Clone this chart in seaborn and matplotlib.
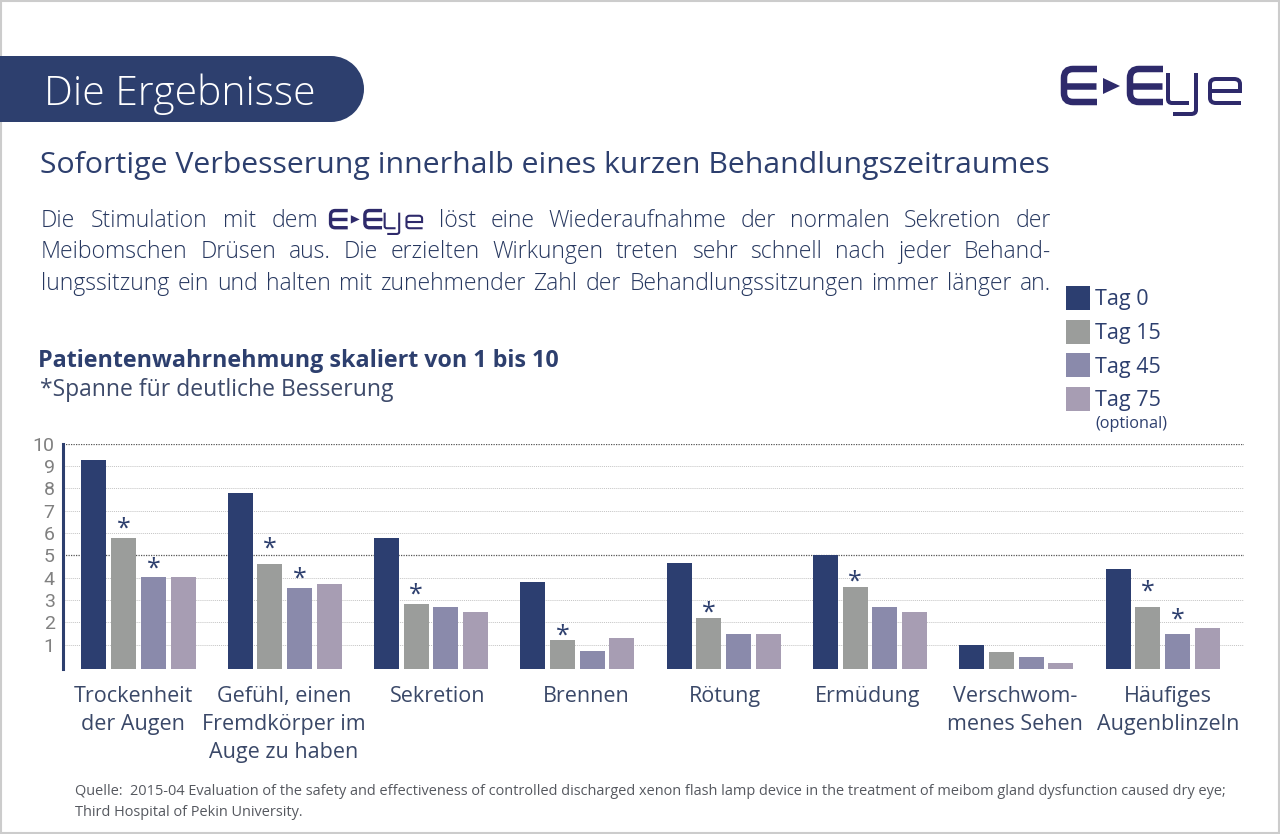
import matplotlib
matplotlib.use('Agg')
import matplotlib.pyplot as plt
from matplotlib.patches import Rectangle, Circle, PathPatch, Polygon
from matplotlib.path import Path
import pandas as pd
import seaborn as sns

categories = ['Trockenheit der Augen', 'Gefühl, einen Fremdkörper im Auge zu haben', 'Sekretion', 'Brennen',
              'Rötung', 'Ermüdung', 'Verschwommenes Sehen', 'Häufiges Augenblinzeln']
category_labels = ['Trockenheit\nder Augen', 'Gefühl, einen\nFremdkörper im\nAuge zu haben', 'Sekretion', 'Brennen',
                   'Rötung', 'Ermüdung', 'Verschwom-\nmenes Sehen', 'Häufiges\nAugenblinzeln']
label_centers = [133, 284, 438, 586, 725, 868, 1015, 1168]
tag_0 = [9.28, 7.80, 5.76, 3.82, 4.66, 5.01, 0.99, 4.39]
tag_15 = [5.76, 4.60, 2.84, 1.19, 2.21, 3.57, 0.69, 2.69]
tag_45 = [4.03, 3.54, 2.69, 0.73, 1.49, 2.69, 0.43, 1.49]
tag_75 = [4.03, 3.72, 2.48, 1.30, 1.49, 2.46, 0.18, 1.73]
tags = ['Tag 0', 'Tag 15', 'Tag 45', 'Tag 75']
colors = ['#2c3e70', '#9b9d9b', '#8a8aab', '#a79db3']
# (tag index, category index, Hoehe) der Sternchen
stars = [(1, 0, 6.34), (2, 0, 4.58), (1, 1, 5.48), (2, 1, 4.10), (1, 2, 3.42),
         (1, 3, 1.57), (1, 4, 2.61), (1, 5, 3.99), (1, 7, 3.54), (2, 7, 2.30)]

NAVY = '#2d3f6e'
BASE = -0.09

sns.set_theme(style='white')
plt.rcParams['font.family'] = ['Open Sans', 'DejaVu Sans']

df = pd.DataFrame({
    'kategorie': categories * 4,
    'tag': [t for t in tags for _ in categories],
    'wert': tag_0 + tag_15 + tag_45 + tag_75,
})

fig = plt.figure(figsize=(12.8, 8.34), dpi=100, facecolor='white')

# Hilfsachse in Pixelkoordinaten fuer alles ausserhalb des Diagramms
deco = fig.add_axes([0, 0, 1, 1], zorder=0)
deco.set_xlim(0, 1280)
deco.set_ylim(834, 0)
deco.axis('off')

ax = fig.add_axes([63 / 1280, 1 - 669 / 834, (1244 - 63) / 1280, (669 - 443.7) / 834], zorder=1)
ax.patch.set_alpha(0)

sns.barplot(data=df, x='kategorie', y='wert', hue='tag', order=categories, hue_order=tags,
            palette=colors, width=0.812, gap=0.158, saturation=1, errorbar=None, linewidth=0, ax=ax)

ax.set_xlim(-0.516, 7.556)
ax.set_ylim(BASE, 10)
ax.set_xlabel('')
ax.set_ylabel('')
ax.set_xticks([])
ax.set_yticks(range(1, 11))
ax.tick_params(axis='y', length=0, pad=6, labelsize=14, labelcolor='#808080', labelfontfamily='Roboto')
for s in ['top', 'right', 'bottom']:
    ax.spines[s].set_visible(False)
ax.spines['left'].set_color(NAVY)
ax.spines['left'].set_linewidth(2.2)
ax.set_axisbelow(True)
ax.yaxis.grid(True, linestyle=(0, (1, 1)), linewidth=0.7, color='#c4c4c4')
for val, line in zip(range(1, 11), ax.get_ygridlines()):
    if val in (5, 10):
        line.set_color('#555555')
        line.set_linewidth(0.9)

# Balken gehen bis zur Grundlinie
for cont in ax.containers:
    for bar in cont:
        top = bar.get_height()
        bar.set_y(BASE)
        bar.set_height(top - BASE)

for t, c, level in stars:
    bar = ax.containers[t][c]
    ax.annotate('*', (bar.get_x() + bar.get_width() / 2, level),
                xytext=(0, -11.9), textcoords='offset points', ha='center', va='bottom',
                fontsize=18, color=NAVY)

handles = [Rectangle((0, 0), 1, 1, color=col, lw=0) for col in colors]
ax.get_legend().remove()
leg = ax.legend(handles, tags, loc='upper left', bbox_to_anchor=(1066, 286), bbox_transform=deco.transData,
                frameon=False, fontsize=15.5, handlelength=1.115, handleheight=1.34, labelspacing=0.44,
                handletextpad=0.23, borderpad=0, borderaxespad=0, labelcolor=NAVY)
deco.text(1095, 428, '(optional)', fontsize=11.7, color=NAVY)

# Rahmen
deco.add_patch(Rectangle((1, 1), 1278, 832, fill=False, edgecolor='#cccccc', lw=1.5))

# Kopfband
deco.add_patch(Rectangle((0, 56), 331, 66, color=NAVY, lw=0))
deco.add_patch(Circle((331, 89), 33, color=NAVY, lw=0))
deco.text(44, 105, 'Die Ergebnisse', color='white', fontsize=29.4, fontweight='light')


def curve(ax_, pts, x0, y0, k, lw, col='#2e2a6b'):
    """pts: Liste aus (x, y) oder ('q', cx, cy, x, y) fuer runde Ecken"""
    verts, codes = [], []
    for i, p in enumerate(pts):
        if p[0] == 'q':
            verts += [(x0 + p[1] * k, y0 + p[2] * k), (x0 + p[3] * k, y0 + p[4] * k)]
            codes += [Path.CURVE3, Path.CURVE3]
        else:
            verts.append((x0 + p[0] * k, y0 + p[1] * k))
            codes.append(Path.MOVETO if i == 0 else Path.LINETO)
    ax_.add_patch(PathPatch(Path(verts, codes), fill=False, edgecolor=col, lw=lw * k * 0.72, capstyle='butt'))


def draw_logo(x0, y0, k):
    col = '#2e2a6b'
    for ex in (0, 66):
        curve(deco, [(ex + 36, 3), (ex + 12, 3), ('q', ex + 3, 3, ex + 3, 12), (ex + 3, 27),
                     ('q', ex + 3, 36, ex + 12, 36), (ex + 36, 36)], x0, y0, k, 6.5)
        curve(deco, [(ex + 3, 19.5), (ex + 35, 19.5)], x0, y0, k, 6.5)
    deco.add_patch(Polygon([(x0 + 42 * k, y0 + 12 * k), (x0 + 59 * k, y0 + 20 * k), (x0 + 42 * k, y0 + 28 * k)],
                           color=col, lw=0))
    curve(deco, [(107, 7), (107, 33), ('q', 107, 37, 111, 37), (128, 37)], x0, y0, k, 4)
    curve(deco, [(135, 7), (135, 44), ('q', 135, 48, 130, 48), (112, 48)], x0, y0, k, 4)
    curve(deco, [(180, 37), (155, 37), ('q', 149, 37, 149, 32), (149, 18), ('q', 149, 13, 155, 13), (173, 13),
                 ('q', 179, 13, 179, 18), (179, 25), (150, 25)], x0, y0, k, 4)


draw_logo(1061, 66, 1.0)

deco.text(40, 173, 'Sofortige Verbesserung innerhalb eines kurzen Behandlungszeitraumes',
          color=NAVY, fontsize=21.8)


def justify(text, x0, x1, y, size=16.6, col='#26375f'):
    """Woerter einzeln setzen, damit der Absatz im Blocksatz steht"""
    words = text.split()
    items = [deco.text(x0, y, w, fontsize=size, color=col, fontweight='light') for w in words]
    rend = fig.canvas.get_renderer()
    widths = [it.get_window_extent(rend).width for it in items]
    space = (x1 - x0 - sum(widths)) / max(len(words) - 1, 1)
    x = x0
    for it, w in zip(items, widths):
        it.set_x(x)
        x += w + space


justify('Die Stimulation mit dem', 41, 318, 227)
draw_logo(329, 209, 0.52)
justify('löst eine Wiederaufnahme der normalen Sekretion der', 439, 1051, 227)
justify('Meibomschen Drüsen aus. Die erzielten Wirkungen treten sehr schnell nach jeder Behand-', 41, 1051, 258)
justify('lungssitzung ein und halten mit zunehmender Zahl der Behandlungssitzungen immer länger an.', 41, 1051, 290)

deco.text(38, 367, 'Patientenwahrnehmung skaliert von 1 bis 10', color=NAVY, fontsize=16.72, fontweight='bold')
deco.text(40, 396, '*Spanne für deutliche Besserung', color='#3d4a6a', fontsize=16.5)

for lab, cx in zip(category_labels, label_centers):
    deco.text(cx, 686, lab, ha='center', va='top', fontsize=15.5, color='#3a4868', linespacing=1.44)

deco.text(75, 795, 'Quelle:  2015-04 Evaluation of the safety and effectiveness of controlled discharged xenon flash '
                   'lamp device in the treatment of meibom gland dysfunction caused dry eye;',
          fontsize=10.42, color='#55585f')
deco.text(75, 816, 'Third Hospital of Pekin University.', fontsize=10.42, color='#55585f')

fig.savefig('out.png', dpi=100)
